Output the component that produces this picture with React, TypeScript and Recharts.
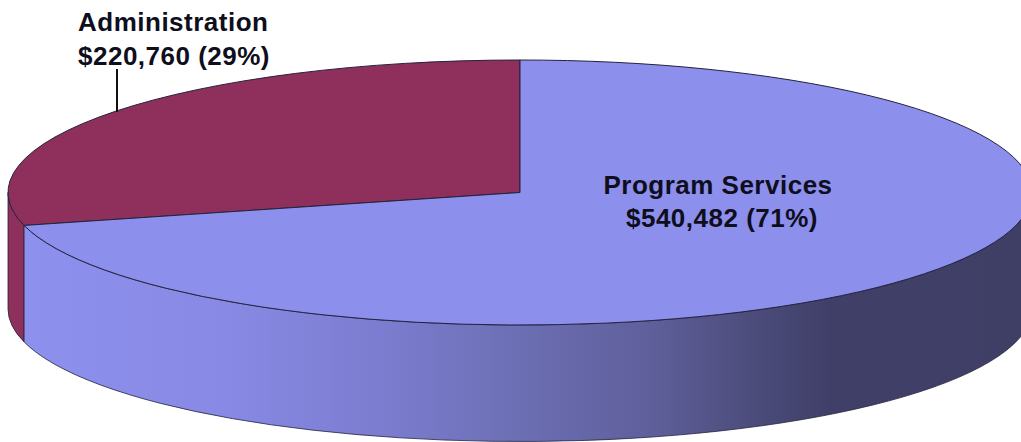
import React from "react";
import { PieChart, Pie } from "recharts";

const categories = ["Administration", "Program Services"];
const amounts = [220760, 540482];
const valueLabels = ["$220,760 (29%)", "$540,482 (71%)"];
const topColors = ["#8e2f5c", "#8d8fec"];
const sideColors = ["#8e2f5c", "url(#sideShade)"];

const chartData = categories.map((name, i) => ({ name, value: amounts[i] }));

const W = 1021;
const H = 442;
const CX = 520;
const CY = 192.5;
const RX = 512;
const RY = 132.5;
const DEPTH = 116.5;
const K = RY / RX;
const OUTLINE = "#23233f";

const RAD = Math.PI / 180;

function point(cx: number, cy: number, r: number, deg: number) {
  return [cx + r * Math.cos(deg * RAD), cy - r * K * Math.sin(deg * RAD)];
}

function TiltedSlice(props: any) {
  const { cx, cy, outerRadius: r, startAngle, endAngle, fill } = props;
  const idx = props.index ?? categories.indexOf(props.name ?? props.payload?.name);
  const ry = r * K;
  const [sx, sy] = point(cx, cy, r, startAngle);
  const [ex, ey] = point(cx, cy, r, endAngle);
  const large = endAngle - startAngle > 180 ? 1 : 0;
  const top = `M${cx},${cy}L${sx},${sy}A${r},${ry} 0 ${large} 0 ${ex},${ey}Z`;

  const a0 = Math.max(startAngle, 180);
  const a1 = Math.min(endAngle, 360);
  let side = "";
  if (a1 > a0) {
    const [x0, y0] = point(cx, cy, r, a0);
    const [x1, y1] = point(cx, cy, r, a1);
    side =
      `M${x0},${y0}A${r},${ry} 0 0 0 ${x1},${y1}` +
      `L${x1},${y1 + DEPTH}A${r},${ry} 0 0 1 ${x0},${y0 + DEPTH}Z`;
  }
  return (
    <g>
      {side && <path d={side} fill={sideColors[idx]} stroke={OUTLINE} strokeWidth={0.8} />}
      <path d={top} fill={fill ?? topColors[idx]} stroke={OUTLINE} strokeWidth={1} />
    </g>
  );
}

function SliceLabel(props: any) {
  const idx = props.index;
  const style = {
    fontFamily: "'Liberation Sans', Arial, sans-serif",
    fontWeight: 700,
    fontSize: 26,
    letterSpacing: 0.5,
    fill: "#0e0e1c",
  } as const;
  if (idx === 0) {
    return (
      <g>
        <line x1={117} y1={69} x2={117} y2={112} stroke="#111" strokeWidth={2} />
        <text x={78} y={31} style={style}>{categories[0]}</text>
        <text x={78} y={65} style={style}>{valueLabels[0]}</text>
      </g>
    );
  }
  return (
    <g>
      <text x={718} y={194} textAnchor="middle" style={style}>{categories[1]}</text>
      <text x={722} y={227} textAnchor="middle" style={style}>{valueLabels[1]}</text>
    </g>
  );
}

export default function App() {
  return (
    <div style={{ position: "absolute", left: 0, top: 0, width: W, height: H, background: "#fff" }}>
      <PieChart width={W} height={H} margin={{ top: 0, right: 0, bottom: 0, left: 0 }}>
        <defs>
          <linearGradient id="sideShade" gradientUnits="userSpaceOnUse" x1={25} y1={0} x2={1032} y2={0}>
            <stop offset="0" stopColor="#8e90ee" />
            <stop offset="0.2" stopColor="#8789e4" />
            <stop offset="0.35" stopColor="#7c7dd0" />
            <stop offset="0.48" stopColor="#6e70b6" />
            <stop offset="0.62" stopColor="#5f5f9c" />
            <stop offset="0.7" stopColor="#505082" />
            <stop offset="0.8" stopColor="#3f3f68" />
            <stop offset="1" stopColor="#3f3f66" />
          </linearGradient>
        </defs>
        <Pie
          data={chartData.map((d, i) => ({ ...d, fill: topColors[i] }))}
          dataKey="value"
          nameKey="name"
          cx={CX}
          cy={CY}
          innerRadius={0}
          outerRadius={RX}
          startAngle={90}
          endAngle={450}
          paddingAngle={0}
          isAnimationActive={false}
          shape={TiltedSlice}
          label={SliceLabel}
          labelLine={false}
        />
      </PieChart>
    </div>
  );
}
